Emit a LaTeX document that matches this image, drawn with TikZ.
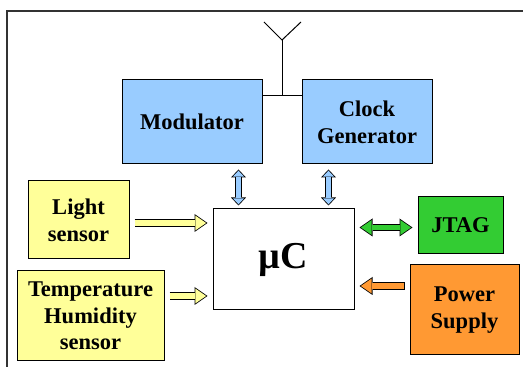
\documentclass[tikz,border=0pt]{standalone}
\usepackage{fontspec}
\setmainfont{Liberation Serif}
\usepackage{xcolor}
\usepackage{tikz}
\usetikzlibrary{arrows.meta,calc}

\definecolor{skyblue}{HTML}{99CCFF}
\definecolor{paleyellow}{HTML}{FFFF99}
\definecolor{jtaggreen}{HTML}{33CC33}
\definecolor{supplyorange}{HTML}{FF9933}

\tikzset{
  box/.style={draw=black, line width=1pt, align=center, inner sep=0pt,
    font=\bfseries\fontsize{22.5}{26.7}\selectfont},
  outtip/.tip={Triangle[width=18pt,length=13pt,line width=0pt]},
  intip/.tip={Triangle[width=14.9pt,length=10.8pt,line width=0pt]},
  smallout/.tip={Triangle[width=15pt,length=8pt,line width=0pt]},
  smallin/.tip={Triangle[width=11.3pt,length=6pt,line width=0pt]},
  fatone/.style={draw=#1, line width=5.9pt, shorten <=5.8pt, shorten >=6.4pt, -intip,
    preaction={draw=black, line width=7.5pt, shorten <=5pt, shorten >=5pt, -outtip}},
  fattwo/.style={draw=#1, line width=5.9pt, shorten <=6.4pt, shorten >=6.4pt, intip-intip,
    preaction={draw=black, line width=7.5pt, shorten <=5pt, shorten >=5pt, outtip-outtip}},
  updown/.style={draw=#1, line width=4.9pt, shorten <=4.2pt, shorten >=6.2pt, smallin-smallin,
    preaction={draw=black, line width=6.5pt, shorten <=3pt, shorten >=5pt, smallout-smallout}},
}

\begin{document}
\begin{tikzpicture}[x=1pt,y=1pt]
\clip (0,0) rectangle (523,367);
% Frame (runs off the right and bottom edge)
\draw[line width=1.2pt, black!80] (7,-10) -- (7,356) -- (540,356);

% Radio part
\node[box, fill=skyblue, minimum width=140pt, minimum height=84pt] (mod) at (192,245) {Modulator};
\node[box, fill=skyblue, minimum width=130pt, minimum height=84pt] (clock) at (367,245) {Clock\\Generator};

% Antenna
\coordinate (feed) at (282,271);
\draw[line width=1pt] (feed -| mod.east) -- (feed -| clock.west);
\draw[line width=1pt] (feed) -- ++(0,56) coordinate (mast);
\draw[line width=1pt] ([shift={(-18pt,18pt)}]mast) -- (mast) -- ([shift={(19pt,18pt)}]mast);

% Microcontroller
\node[box, fill=white, minimum width=141pt, minimum height=101pt,
  font=\bfseries\fontsize{38}{40}\selectfont] (uc) at (283.5,107.5) {µC};

% Sensors
\node[box, fill=paleyellow, minimum width=101pt, minimum height=78pt] (light) at (78.5,147) {Light\\sensor};
\node[box, fill=paleyellow, minimum width=147pt, minimum height=90pt] (temp) at (90.5,51) {Temperature\\Humidity\\sensor};

% Debug and supply
\node[box, fill=jtaggreen, minimum width=85pt, minimum height=57pt] (jtag) at (460.5,141.5) {JTAG};
\node[box, fill=supplyorange, minimum width=109pt, minimum height=90pt] (power) at (464.5,57) {Power\\Supply};

% Connections
\draw[updown=skyblue] ([xshift=-45pt]uc.north) -- ([xshift=-45pt]uc.north |- mod.south);
\draw[updown=skyblue] ([xshift=45pt]uc.north) -- ([xshift=45pt]uc.north |- clock.south);
\draw[fatone=paleyellow] ([yshift=-3pt]light.east) -- ([yshift=-3pt]light.east -| uc.west);
\draw[fatone=paleyellow] ([yshift=20pt]temp.east) -- ([yshift=20pt]temp.east -| uc.west);
\draw[fattwo=jtaggreen] ([yshift=-2pt]jtag.west) -- ([yshift=-2pt]jtag.west -| uc.east);
\draw[fatone=supplyorange] ([yshift=24pt]power.west) -- ([yshift=24pt]power.west -| uc.east);
\end{tikzpicture}
\end{document}
